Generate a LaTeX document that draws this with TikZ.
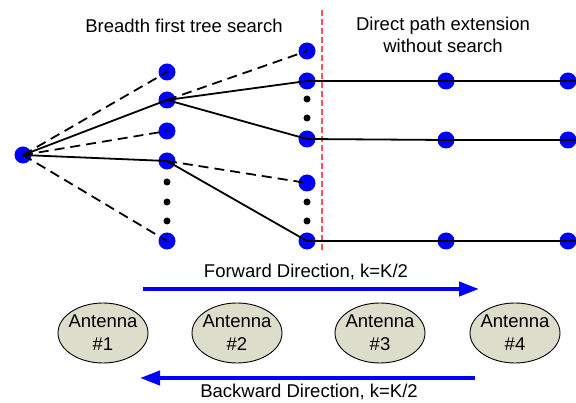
\documentclass[tikz,border=0pt]{standalone}
\usepackage{fontspec}
\setmainfont{Liberation Sans}
\usetikzlibrary{shapes.geometric,arrows.meta}
\definecolor{antgray}{RGB}{221,221,204}
\definecolor{sepred}{RGB}{255,85,85}
\tikzset{
    every node/.style={inner sep=0mm, font=\fontsize{18.5}{23}\selectfont}
}
\tikzset{
    vtx/.style={circle, fill=blue, minimum size=17pt},
    sdot/.style={circle, fill=black, minimum size=7pt},
    antenna/.style={ellipse, draw, line width=0.9pt, fill=antgray, inner sep=-3pt, minimum width=90pt, minimum height=60pt, align=center},
    title/.style={anchor=base},
    path/.style={line width=1.8pt},
    pruned/.style={line width=1.8pt, dash pattern=on 10pt off 6pt},
    direction/.style={blue, line width=4pt, -{Triangle[length=20pt,width=14pt]}}
}

\begin{document}
\begin{tikzpicture}[x=1pt, y=-1pt]
        \useasboundingbox (0,0) rectangle (576,403);
        \node (t1) [title] at (184,33) {Breadth first tree search};
        \node (t2) [title] at (443,31) {Direct path extension};
        \node (t3) [title] at (443,53) {without search};
        \node (v0) [vtx] at (23,155) {};
        \node (a1) [vtx] at (167,72) {};
        \node (a2) [vtx] at (167,100) {};
        \node (a3) [vtx] at (167,131) {};
        \node (a4) [vtx] at (167,161) {};
        \node (a5) [vtx] at (167,241) {};
        \node (b1) [vtx] at (307,51) {};
        \node (b2) [vtx] at (307,81) {};
        \node (b3) [vtx] at (307,139) {};
        \node (b4) [vtx] at (307,183) {};
        \node (b5) [vtx] at (307,241) {};
        \node (c1) [vtx] at (446,81) {};
        \node (c2) [vtx] at (446,140) {};
        \node (c3) [vtx] at (446,241) {};
        \node (d1) [vtx] at (568,81) {};
        \node (d2) [vtx] at (568,140) {};
        \node (d3) [vtx] at (568,241) {};
        \coordinate (e1) at (576,81);
        \coordinate (e2) at (576,140);
        \coordinate (e3) at (576,241);
        \foreach \y [count=\i] in {182,202,221} {
                \node (p\i) [sdot] at (167,\y) {};
        }
        \foreach \y [count=\i] in {99,118,202,221} {
                \node (q\i) [sdot] at (307,\y) {};
        }
        \coordinate (s1) at (322,10);
        \coordinate (s2) at (322,252);
        \draw [sepred, line width=1.3pt, dash pattern=on 6pt off 3pt] (s1) -- (s2);
        \draw (v0.center) edge [pruned] (a1.center);
        \draw (v0.center) edge [path] (a2.center);
        \draw (v0.center) edge [pruned] (a3.center);
        \draw (v0.center) edge [path] (a4.center);
        \draw (v0.center) edge [pruned] (a5.center);
        \draw (a2.center) edge [pruned] (b1.center);
        \draw (a2.center) edge [path] (b2.center);
        \draw (a2.center) edge [path] (b3.center);
        \draw (a4.center) edge [pruned] (b4.center);
        \draw (a4.center) edge [path] (b5.center);
        \draw [path] (b2.center) -- (c1.center) -- (d1.center) -- (e1);
        \draw [path] (b3.center) -- (c2.center) -- (d2.center) -- (e2);
        \draw [path] (b5.center) -- (c3.center) -- (d3.center) -- (e3);
        \node (ant1) [antenna] at (103,333) {Antenna\\\#1};
        \node (ant2) [antenna] at (237,333) {Antenna\\\#2};
        \node (ant3) [antenna] at (380,333) {Antenna\\\#3};
        \node (ant4) [antenna] at (515,333) {Antenna\\\#4};
        \coordinate (f1) at (143,289);
        \coordinate (f2) at (479,289);
        \coordinate (g1) at (475,378);
        \coordinate (g2) at (140,378);
        \draw [direction] (f1) -- (f2);
        \draw [direction] (g1) -- (g2);
        \node (fw) [title] at (306,278) {Forward Direction, k=K/2};
        \node (bw) [title] at (309,398) {Backward Direction, k=K/2};
\end{tikzpicture}
\end{document}
